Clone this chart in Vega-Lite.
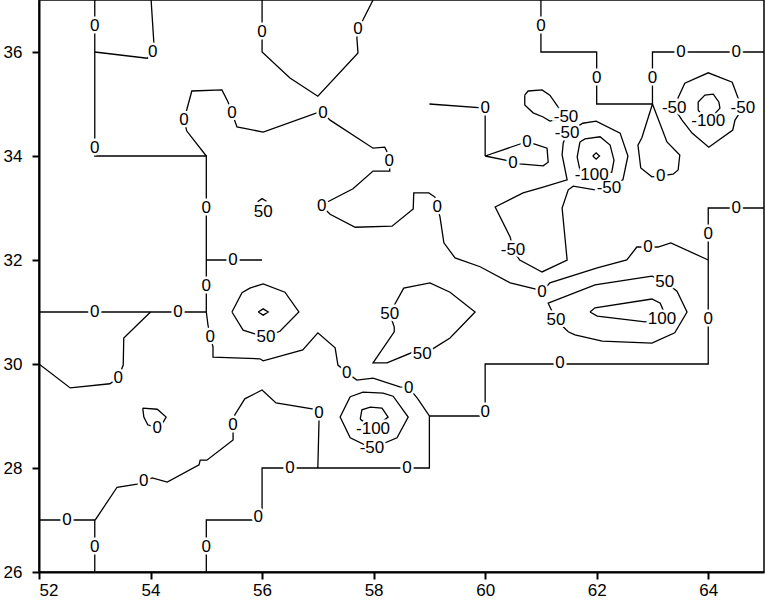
{
"$schema": "https://vega.github.io/schema/vega-lite/v6.json",
"width": 725, "height": 572,
"autosize": {"type": "none"},
"padding": {"left": 39, "top": 0, "right": 1, "bottom": 29},
"background": "white",
"config": {
 "view": {"stroke": "black", "strokeWidth": 1.5},
 "axis": {"grid": false, "title": null, "domainColor": "black", "domainWidth": 2, "tickColor": "black", "tickWidth": 2, "tickSize": 7, "labelFont": "Liberation Sans", "labelFontSize": 17, "labelColor": "black", "format": "d"}
},
"datasets": {
"lines": [
{"id":"A","o":1,"x":53,"y":37},{"id":"A","o":2,"x":53,"y":34},{"id":"A","o":3,"x":55,"y":34},{"id":"A","o":4,"x":55,"y":31},{"id":"A","o":5,"x":55.03,"y":30.75},{"id":"A","o":6,"x":55.07,"y":30.52},{"id":"A","o":7,"x":55.12,"y":30.33},{"id":"A","o":8,"x":55.12,"y":30.13},{"id":"A","o":9,"x":55.96,"y":30.1},{"id":"A","o":10,"x":56.02,"y":30.06},{"id":"A","o":11,"x":56.73,"y":30.27},{"id":"A","o":12,"x":57,"y":30.6},{"id":"A","o":13,"x":57.31,"y":30.31},{"id":"A","o":14,"x":57.36,"y":29.98},{"id":"A","o":15,"x":57.52,"y":29.83},{"id":"A","o":16,"x":57.7,"y":29.69},{"id":"A","o":17,"x":57.99,"y":29.73},{"id":"A","o":18,"x":58.47,"y":29.56},{"id":"A","o":19,"x":58.63,"y":29.54},{"id":"A","o":20,"x":58.78,"y":29.35},{"id":"A","o":21,"x":59,"y":29},{"id":"A","o":22,"x":59,"y":28},{"id":"A","o":23,"x":56,"y":28},{"id":"A","o":24,"x":56,"y":27},{"id":"A","o":25,"x":55,"y":27},{"id":"A","o":26,"x":55,"y":26},
{"id":"B","o":1,"x":59,"y":29},{"id":"B","o":2,"x":60,"y":29},{"id":"B","o":3,"x":60,"y":30},{"id":"B","o":4,"x":64,"y":30},{"id":"B","o":5,"x":64,"y":33},{"id":"B","o":6,"x":65,"y":33},
{"id":"C","o":1,"x":53,"y":36},{"id":"C","o":2,"x":53.94,"y":35.88},{"id":"C","o":3,"x":54.04,"y":36},{"id":"C","o":4,"x":54.06,"y":36.17},{"id":"C","o":5,"x":54.01,"y":37},
{"id":"D","o":1,"x":55,"y":34},{"id":"D","o":2,"x":54.65,"y":34.48},{"id":"D","o":3,"x":54.6,"y":34.69},{"id":"D","o":4,"x":54.74,"y":35.25},{"id":"D","o":5,"x":55.28,"y":35.27},{"id":"D","o":6,"x":55.39,"y":35.04},{"id":"D","o":7,"x":55.46,"y":34.83},{"id":"D","o":8,"x":55.55,"y":34.56},{"id":"D","o":9,"x":56.02,"y":34.46},{"id":"D","o":10,"x":56.98,"y":34.83},{"id":"D","o":11,"x":57.09,"y":34.83},{"id":"D","o":12,"x":57.22,"y":34.69},{"id":"D","o":13,"x":57.99,"y":34.15},{"id":"D","o":14,"x":58.2,"y":34.17},{"id":"D","o":15,"x":58.24,"y":34.08},{"id":"D","o":16,"x":58.28,"y":33.9},{"id":"D","o":17,"x":58.29,"y":33.71},{"id":"D","o":18,"x":57.99,"y":33.71},{"id":"D","o":19,"x":57.63,"y":33.37},{"id":"D","o":20,"x":57.18,"y":33.12},{"id":"D","o":21,"x":57.07,"y":33.04},{"id":"D","o":22,"x":57.22,"y":32.88},{"id":"D","o":23,"x":57.67,"y":32.63},{"id":"D","o":24,"x":58.33,"y":32.65},{"id":"D","o":25,"x":58.71,"y":32.98},{"id":"D","o":26,"x":58.72,"y":33.29},{"id":"D","o":27,"x":58.99,"y":33.29},{"id":"D","o":28,"x":59.1,"y":33.21},{"id":"D","o":29,"x":59.14,"y":33.02},{"id":"D","o":30,"x":59.19,"y":32.83},{"id":"D","o":31,"x":59.26,"y":32.33},{"id":"D","o":32,"x":59.46,"y":32.04},{"id":"D","o":33,"x":59.91,"y":31.87},{"id":"D","o":34,"x":60.45,"y":31.56},{"id":"D","o":35,"x":60.98,"y":31.42},{"id":"D","o":36,"x":61.02,"y":31.38},{"id":"D","o":37,"x":61.16,"y":31.56},{"id":"D","o":38,"x":62.01,"y":31.85},{"id":"D","o":39,"x":62.54,"y":32},{"id":"D","o":40,"x":62.72,"y":32.25},{"id":"D","o":41,"x":62.92,"y":32.25},{"id":"D","o":42,"x":63.1,"y":32.25},{"id":"D","o":43,"x":63.33,"y":32.33},{"id":"D","o":44,"x":64,"y":32},
{"id":"E","o":1,"x":56,"y":37},{"id":"E","o":2,"x":56,"y":36},{"id":"E","o":3,"x":56.5,"y":35.5},{"id":"E","o":4,"x":57,"y":35.15},{"id":"E","o":5,"x":57.72,"y":35.98},{"id":"E","o":6,"x":57.7,"y":36.27},{"id":"E","o":7,"x":57.72,"y":36.44},{"id":"E","o":8,"x":57.81,"y":36.62},{"id":"E","o":9,"x":57.99,"y":37},
{"id":"F","o":1,"x":55,"y":32},{"id":"F","o":2,"x":56,"y":32},
{"id":"G","o":1,"x":52,"y":31},{"id":"G","o":2,"x":55,"y":31},
{"id":"H","o":1,"x":54,"y":31},{"id":"H","o":2,"x":53.52,"y":30.5},{"id":"H","o":3,"x":53.51,"y":29.98},{"id":"H","o":4,"x":53.42,"y":29.73},{"id":"H","o":5,"x":53.27,"y":29.62},{"id":"H","o":6,"x":52.56,"y":29.54},{"id":"H","o":7,"x":52,"y":30},
{"id":"I","o":1,"x":59,"y":35},{"id":"I","o":2,"x":60,"y":34.92},{"id":"I","o":3,"x":60,"y":34},
{"id":"J","o":1,"x":60,"y":34},{"id":"J","o":2,"x":60.68,"y":34.25},{"id":"J","o":3,"x":60.75,"y":34.27},{"id":"J","o":4,"x":60.89,"y":34.23},{"id":"J","o":5,"x":61.11,"y":34.15},{"id":"J","o":6,"x":61.13,"y":33.88},{"id":"J","o":7,"x":61.04,"y":33.81},{"id":"J","o":8,"x":60.62,"y":33.85},{"id":"J","o":9,"x":60.5,"y":33.87},{"id":"J","o":10,"x":60.36,"y":33.92},{"id":"J","o":11,"x":60,"y":34},
{"id":"K","o":1,"x":61,"y":37},{"id":"K","o":2,"x":61,"y":36},{"id":"K","o":3,"x":62,"y":36},{"id":"K","o":4,"x":62,"y":35},{"id":"K","o":5,"x":63,"y":35},{"id":"K","o":6,"x":63,"y":36},{"id":"K","o":7,"x":65,"y":36},
{"id":"L","o":1,"x":63,"y":35},{"id":"L","o":2,"x":62.81,"y":34.35},{"id":"L","o":3,"x":62.74,"y":34.21},{"id":"L","o":4,"x":62.79,"y":33.77},{"id":"L","o":5,"x":62.99,"y":33.6},{"id":"L","o":6,"x":63.15,"y":33.62},{"id":"L","o":7,"x":63.37,"y":33.65},{"id":"L","o":8,"x":63.46,"y":33.73},{"id":"L","o":9,"x":63.49,"y":34.02},{"id":"L","o":10,"x":63.26,"y":34.27},{"id":"L","o":11,"x":63,"y":35},
{"id":"M","o":1,"x":57,"y":28},{"id":"M","o":2,"x":57.02,"y":28.87},{"id":"M","o":3,"x":57.02,"y":29.06},{"id":"M","o":4,"x":56.95,"y":29.13},{"id":"M","o":5,"x":56.25,"y":29.25},{"id":"M","o":6,"x":56,"y":29.5},{"id":"M","o":7,"x":55.69,"y":29.33},{"id":"M","o":8,"x":55.51,"y":29.02},{"id":"M","o":9,"x":55.48,"y":28.83},{"id":"M","o":10,"x":55.48,"y":28.54},{"id":"M","o":11,"x":55.01,"y":28.15},{"id":"M","o":12,"x":54.89,"y":28.15},{"id":"M","o":13,"x":54.87,"y":28.06},{"id":"M","o":14,"x":54.3,"y":27.73},{"id":"M","o":15,"x":54.03,"y":27.81},{"id":"M","o":16,"x":53.88,"y":27.75},{"id":"M","o":17,"x":53.76,"y":27.69},{"id":"M","o":18,"x":53.4,"y":27.63},{"id":"M","o":19,"x":53.02,"y":27.02},{"id":"M","o":20,"x":53,"y":27},{"id":"M","o":21,"x":52,"y":27},
{"id":"N","o":1,"x":53,"y":27},{"id":"N","o":2,"x":53,"y":26},
{"id":"O","o":1,"x":53.86,"y":29.15},{"id":"O","o":2,"x":54.12,"y":29.13},{"id":"O","o":3,"x":54.28,"y":28.98},{"id":"O","o":4,"x":54.22,"y":28.87},{"id":"O","o":5,"x":54.12,"y":28.77},{"id":"O","o":6,"x":53.95,"y":28.83},{"id":"O","o":7,"x":53.88,"y":28.98},{"id":"O","o":8,"x":53.86,"y":29.15},
{"id":"P","o":1,"x":60.71,"y":35.17},{"id":"P","o":2,"x":60.77,"y":35.25},{"id":"P","o":3,"x":61.02,"y":35.27},{"id":"P","o":4,"x":61.16,"y":35.17},{"id":"P","o":5,"x":61.31,"y":34.94},{"id":"P","o":6,"x":61.47,"y":34.75},{"id":"P","o":7,"x":61.16,"y":34.67},{"id":"P","o":8,"x":61.04,"y":34.75},{"id":"P","o":9,"x":60.86,"y":34.83},{"id":"P","o":10,"x":60.71,"y":34.98},{"id":"P","o":11,"x":60.71,"y":35.17},
{"id":"Q","o":1,"x":61.47,"y":34.44},{"id":"Q","o":2,"x":61.75,"y":34.63},{"id":"Q","o":3,"x":61.99,"y":34.67},{"id":"Q","o":4,"x":62.42,"y":34.44},{"id":"Q","o":5,"x":62.56,"y":34},{"id":"Q","o":6,"x":62.47,"y":33.54},{"id":"Q","o":7,"x":62.2,"y":33.4},{"id":"Q","o":8,"x":61.97,"y":33.35},{"id":"Q","o":9,"x":61.58,"y":33.42},{"id":"Q","o":10,"x":61.49,"y":33.35},{"id":"Q","o":11,"x":61.38,"y":33},{"id":"Q","o":12,"x":61.47,"y":32},{"id":"Q","o":13,"x":61.02,"y":31.77},{"id":"Q","o":14,"x":60.62,"y":32},{"id":"Q","o":15,"x":60.5,"y":32.19},{"id":"Q","o":16,"x":60.45,"y":32.44},{"id":"Q","o":17,"x":60.18,"y":33.02},{"id":"Q","o":18,"x":60.68,"y":33.29},{"id":"Q","o":19,"x":61.04,"y":33.4},{"id":"Q","o":20,"x":61.47,"y":33.54},{"id":"Q","o":21,"x":61.38,"y":34.02},{"id":"Q","o":22,"x":61.4,"y":34.25},{"id":"Q","o":23,"x":61.47,"y":34.44},
{"id":"R","o":1,"x":61.7,"y":34.27},{"id":"R","o":2,"x":61.79,"y":34.33},{"id":"R","o":3,"x":62.06,"y":34.37},{"id":"R","o":4,"x":62.24,"y":34.21},{"id":"R","o":5,"x":62.31,"y":33.92},{"id":"R","o":6,"x":62.27,"y":33.69},{"id":"R","o":7,"x":61.93,"y":33.62},{"id":"R","o":8,"x":61.7,"y":33.73},{"id":"R","o":9,"x":61.65,"y":33.98},{"id":"R","o":10,"x":61.7,"y":34.27},
{"id":"S","o":1,"x":61.93,"y":34},{"id":"S","o":2,"x":61.99,"y":34.06},{"id":"S","o":3,"x":62.05,"y":34},{"id":"S","o":4,"x":61.99,"y":33.94},{"id":"S","o":5,"x":61.93,"y":34},
{"id":"T","o":1,"x":63.39,"y":34.92},{"id":"T","o":2,"x":63.46,"y":35.12},{"id":"T","o":3,"x":63.58,"y":35.4},{"id":"T","o":4,"x":64,"y":35.6},{"id":"T","o":5,"x":64.43,"y":35.42},{"id":"T","o":6,"x":64.53,"y":35.13},{"id":"T","o":7,"x":64.62,"y":34.92},{"id":"T","o":8,"x":64.48,"y":34.69},{"id":"T","o":9,"x":64.44,"y":34.5},{"id":"T","o":10,"x":64.01,"y":34.17},{"id":"T","o":11,"x":63.71,"y":34.44},{"id":"T","o":12,"x":63.53,"y":34.69},{"id":"T","o":13,"x":63.39,"y":34.92},
{"id":"U","o":1,"x":63.82,"y":34.88},{"id":"U","o":2,"x":63.82,"y":35.04},{"id":"U","o":3,"x":63.94,"y":35.17},{"id":"U","o":4,"x":64.09,"y":35.19},{"id":"U","o":5,"x":64.19,"y":35.04},{"id":"U","o":6,"x":64.21,"y":34.92},{"id":"U","o":7,"x":64,"y":34.67},{"id":"U","o":8,"x":63.82,"y":34.88},
{"id":"V","o":1,"x":57.58,"y":29.37},{"id":"V","o":2,"x":57.81,"y":29.46},{"id":"V","o":3,"x":58.17,"y":29.44},{"id":"V","o":4,"x":58.35,"y":29.38},{"id":"V","o":5,"x":58.62,"y":28.98},{"id":"V","o":6,"x":58.42,"y":28.58},{"id":"V","o":7,"x":57.97,"y":28.38},{"id":"V","o":8,"x":57.58,"y":28.58},{"id":"V","o":9,"x":57.4,"y":28.98},{"id":"V","o":10,"x":57.58,"y":29.37},
{"id":"W","o":1,"x":57.76,"y":28.94},{"id":"W","o":2,"x":57.79,"y":29.12},{"id":"W","o":3,"x":57.94,"y":29.17},{"id":"W","o":4,"x":58.15,"y":29.15},{"id":"W","o":5,"x":58.26,"y":28.98},{"id":"W","o":6,"x":57.99,"y":28.75},{"id":"W","o":7,"x":57.76,"y":28.94},
{"id":"X","o":1,"x":55.46,"y":31},{"id":"X","o":2,"x":55.64,"y":31.37},{"id":"X","o":3,"x":55.78,"y":31.46},{"id":"X","o":4,"x":56.02,"y":31.54},{"id":"X","o":5,"x":56.41,"y":31.38},{"id":"X","o":6,"x":56.66,"y":31},{"id":"X","o":7,"x":56.32,"y":30.63},{"id":"X","o":8,"x":56.07,"y":30.52},{"id":"X","o":9,"x":55.87,"y":30.58},{"id":"X","o":10,"x":55.66,"y":30.65},{"id":"X","o":11,"x":55.46,"y":31},
{"id":"Y","o":1,"x":55.93,"y":31},{"id":"Y","o":2,"x":56.02,"y":31.06},{"id":"Y","o":3,"x":56.11,"y":31},{"id":"Y","o":4,"x":56.02,"y":30.94},{"id":"Y","o":5,"x":55.93,"y":31},
{"id":"Z","o":1,"x":58.29,"y":30.96},{"id":"Z","o":2,"x":58.37,"y":31.13},{"id":"Z","o":3,"x":58.54,"y":31.46},{"id":"Z","o":4,"x":59.01,"y":31.56},{"id":"Z","o":5,"x":59.37,"y":31.38},{"id":"Z","o":6,"x":59.82,"y":31},{"id":"Z","o":7,"x":59.37,"y":30.5},{"id":"Z","o":8,"x":59.06,"y":30.29},{"id":"Z","o":9,"x":58.87,"y":30.19},{"id":"Z","o":10,"x":58.71,"y":30.23},{"id":"Z","o":11,"x":58.24,"y":30.02},{"id":"Z","o":12,"x":57.99,"y":30.02},{"id":"Z","o":13,"x":58.06,"y":30.13},{"id":"Z","o":14,"x":58.37,"y":30.62},{"id":"Z","o":15,"x":58.37,"y":30.71},{"id":"Z","o":16,"x":58.29,"y":30.96},
{"id":"AA","o":1,"x":62.99,"y":31.69},{"id":"AA","o":2,"x":61.97,"y":31.52},{"id":"AA","o":3,"x":61.13,"y":31.17},{"id":"AA","o":4,"x":61.27,"y":30.85},{"id":"AA","o":5,"x":61.49,"y":30.62},{"id":"AA","o":6,"x":61.61,"y":30.56},{"id":"AA","o":7,"x":62.1,"y":30.44},{"id":"AA","o":8,"x":62.99,"y":30.4},{"id":"AA","o":9,"x":63.4,"y":30.6},{"id":"AA","o":10,"x":63.62,"y":31},{"id":"AA","o":11,"x":63.44,"y":31.4},{"id":"AA","o":12,"x":63.22,"y":31.58},{"id":"AA","o":13,"x":62.99,"y":31.69},
{"id":"AB","o":1,"x":61.88,"y":31},{"id":"AB","o":2,"x":61.97,"y":31.08},{"id":"AB","o":3,"x":62.99,"y":31.25},{"id":"AB","o":4,"x":63.14,"y":31.17},{"id":"AB","o":5,"x":63.19,"y":31.04},{"id":"AB","o":6,"x":63.17,"y":30.87},{"id":"AB","o":7,"x":62.87,"y":30.81},{"id":"AB","o":8,"x":62.01,"y":30.92},{"id":"AB","o":9,"x":61.88,"y":31},
{"id":"AC","o":1,"x":55.92,"y":33.12},{"id":"AC","o":2,"x":56,"y":33.18},{"id":"AC","o":3,"x":56.08,"y":33.13}
],
"labels": [
{"t":"0","x":53,"y":36.5},{"t":"0","x":53,"y":34.15},{"t":"0","x":54.04,"y":36},{"t":"0","x":56,"y":36.38},{"t":"0","x":57.72,"y":36.44},{"t":"0","x":54.6,"y":34.69},{"t":"0","x":55.46,"y":34.83},{"t":"0","x":57.09,"y":34.83},{"t":"0","x":58.28,"y":33.9},{"t":"0","x":57.07,"y":33.04},{"t":"0","x":59.14,"y":33.02},{"t":"0","x":60,"y":34.92},{"t":"0","x":60.75,"y":34.27},{"t":"0","x":60.5,"y":33.87},{"t":"0","x":61,"y":36.5},{"t":"0","x":62,"y":35.5},{"t":"0","x":63,"y":35.5},{"t":"0","x":63.51,"y":36},{"t":"0","x":64.5,"y":36},{"t":"0","x":63.15,"y":33.62},{"t":"0","x":55,"y":33},{"t":"0","x":55.48,"y":32},{"t":"0","x":55,"y":31.5},{"t":"0","x":53,"y":31},{"t":"0","x":54.49,"y":31},{"t":"0","x":55.07,"y":30.52},{"t":"0","x":53.42,"y":29.73},{"t":"0","x":57.52,"y":29.83},{"t":"0","x":58.63,"y":29.54},{"t":"0","x":61.02,"y":31.38},{"t":"0","x":62.92,"y":32.25},{"t":"0","x":64,"y":32.5},{"t":"0","x":64.5,"y":33},{"t":"0","x":64,"y":30.87},{"t":"0","x":61.34,"y":30.02},{"t":"0","x":60,"y":29.08},{"t":"0","x":58.6,"y":28},{"t":"0","x":56.5,"y":28},{"t":"0","x":57.02,"y":29.06},{"t":"0","x":55.48,"y":28.83},{"t":"0","x":54.12,"y":28.77},{"t":"0","x":53.88,"y":27.75},{"t":"0","x":52.5,"y":27},{"t":"0","x":53,"y":26.48},{"t":"0","x":55,"y":26.48},{"t":"0","x":55.93,"y":27.06},
{"t":"-50","x":61.45,"y":34.75},{"t":"-50","x":61.47,"y":34.44},{"t":"-50","x":62.22,"y":33.38},{"t":"-50","x":60.5,"y":32.19},{"t":"-50","x":63.39,"y":34.92},{"t":"-50","x":64.62,"y":34.92},{"t":"-50","x":57.97,"y":28.38},
{"t":"-100","x":61.91,"y":33.64},{"t":"-100","x":64,"y":34.67},{"t":"-100","x":57.99,"y":28.75},
{"t":"50","x":56.02,"y":32.92},{"t":"50","x":56.07,"y":30.52},{"t":"50","x":58.29,"y":30.96},{"t":"50","x":58.87,"y":30.19},{"t":"50","x":63.22,"y":31.58},{"t":"50","x":61.27,"y":30.85},
{"t":"100","x":63.17,"y":30.87}
]
},
"layer": [
 {"data": {"name": "lines"},
  "mark": {"type": "line", "color": "black", "strokeWidth": 1.3, "interpolate": "linear", "clip": true},
  "encoding": {
   "x": {"field": "x", "type": "quantitative", "scale": {"domain": [52, 65], "nice": false, "zero": false}, "axis": {"values": [52, 54, 56, 58, 60, 62, 64], "labelPadding": 3}},
   "y": {"field": "y", "type": "quantitative", "scale": {"domain": [26, 37], "nice": false, "zero": false}, "axis": {"values": [26, 28, 30, 32, 34, 36], "labelPadding": 10}},
   "detail": {"field": "id"},
   "order": {"field": "o", "type": "quantitative"}
  }},
 {"data": {"name": "labels"},
  "mark": {"type": "text", "font": "Liberation Sans", "fontSize": 17, "fill": "white", "stroke": "white", "strokeWidth": 5, "align": "center", "baseline": "middle"},
  "encoding": {
   "x": {"field": "x", "type": "quantitative"},
   "y": {"field": "y", "type": "quantitative"},
   "text": {"field": "t"}
  }},
 {"data": {"name": "labels"},
  "mark": {"type": "text", "font": "Liberation Sans", "fontSize": 17, "color": "black", "align": "center", "baseline": "middle"},
  "encoding": {
   "x": {"field": "x", "type": "quantitative"},
   "y": {"field": "y", "type": "quantitative"},
   "text": {"field": "t"}
  }}
]
}
